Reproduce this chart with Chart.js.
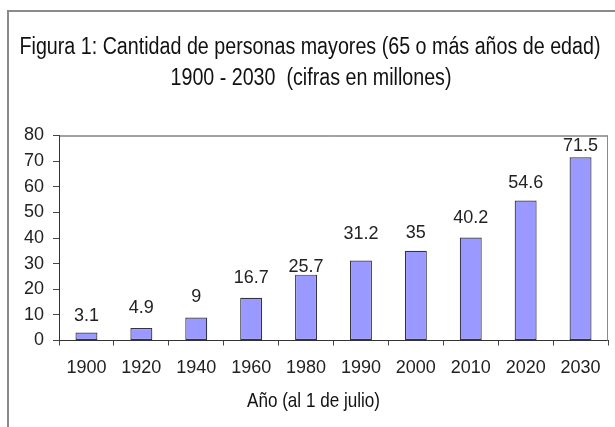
<!DOCTYPE html>
<html>
<head>
<meta charset="utf-8">
<script src="https://cdn.jsdelivr.net/npm/chart.js@4"></script>
<style>
	body {
		margin: 0;
		background: #fff;
		overflow: hidden;
	}
	#box {
		position: absolute;
		left: 7px;
		top: 10px;
		width: 640px;
		height: 440px;
		border-top: 2px solid #8a8a8a;
		border-left: 2px solid #8a8a8a;
	}
	#chart1 {
		position: absolute;
		left: 0;
		top: 0;
	}
</style>
</head>
<body>
<div id="box">
	<canvas id="chart1" width="606" height="415"></canvas>
</div>
<script>
const years = ['1900', '1920', '1940', '1960', '1980', '1990', '2000', '2010', '2020', '2030'];
const seniors = [3.1, 4.9, 9, 16.7, 25.7, 31.2, 35, 40.2, 54.6, 71.5];
const yTicks = [0, 10, 20, 30, 40, 50, 60, 70, 80];

const titleLines = [
	'Figura 1: Cantidad de personas mayores (65 o más años de edad)',
	'1900 - 2030  (cifras en millones)'
];
const xAxisTitle = 'Año (al 1 de julio)';

const font = "'Liberation Sans', Arial, sans-serif";

// how far above each bar top the value sits (as in the picture)
const labelLift = [17, 20, 20, 20, 8, 27, 18, 19, 18, 11];

const barValues = {
	id: 'barValues',
	afterDatasetsDraw(chart) {
		let ctx = chart.ctx;
		let meta = chart.getDatasetMeta(0);
		ctx.save();
		ctx.font = '18px ' + font;
		ctx.fillStyle = '#222';
		ctx.textAlign = 'center';
		ctx.textBaseline = 'middle';
		meta.data.forEach((bar, i) => {
			ctx.fillText(String(seniors[i]), bar.x, bar.y - labelLift[i]);
		});
		ctx.restore();
	}
};

const plotFrame = {
	id: 'plotFrame',
	beforeDatasetsDraw(chart) {
		let a = chart.chartArea;
		let ctx = chart.ctx;
		ctx.save();
		ctx.lineWidth = 1;
		ctx.strokeStyle = '#444';
		ctx.beginPath();
		ctx.moveTo(a.left, a.top + 0.5);
		ctx.lineTo(a.right, a.top + 0.5);
		ctx.stroke();
		ctx.strokeStyle = '#8a8a8a';
		ctx.beginPath();
		ctx.moveTo(a.right - 0.5, a.top);
		ctx.lineTo(a.right - 0.5, a.bottom);
		ctx.stroke();
		ctx.restore();
	}
};

// the picture uses a narrow face; squeeze the regular one with maxWidth
const narrowText = {
	id: 'narrowText',
	afterDraw(chart) {
		let ctx = chart.ctx;
		ctx.save();
		ctx.fillStyle = '#111';
		ctx.textAlign = 'center';
		ctx.textBaseline = 'middle';
		ctx.font = '23px ' + font;
		ctx.fillText(titleLines[0], 301, 36, 581);
		ctx.fillText(titleLines[1], 302, 66.5, 281);
		ctx.font = '21px ' + font;
		ctx.fillText(xAxisTitle, 304.5, 389, 133);
		ctx.restore();
	}
};

new Chart(document.getElementById('chart1'), {
	type: 'bar',
	data: {
		labels: years,
		datasets: [
			{
				label: 'Personas mayores',
				data: seniors,
				backgroundColor: '#9999ff',
				borderColor: '#333344',
				borderWidth: 1.2,
				borderSkipped: false,
				barPercentage: 0.4,
				categoryPercentage: 1
			}
		]
	},
	options: {
		responsive: false,
		animation: false,
		layout: {
			padding: { top: 123.5, right: 7, bottom: 0, left: 0 }
		},
		plugins: {
			legend: { display: false },
			tooltip: { enabled: false },
			title: { display: false }
		},
		scales: {
			x: {
				grid: {
					offset: true,
					drawOnChartArea: false,
					drawTicks: true,
					tickLength: 5,
					color: '#444'
				},
				border: { display: true, color: '#333', width: 1 },
				ticks: {
					color: '#222',
					font: { family: font, size: 18 },
					padding: 12,
					maxRotation: 0,
					autoSkip: false
				},
				afterFit: (s) => {
					s.height = 86.5;
				}
			},
			y: {
				min: 0,
				max: 80,
				afterBuildTicks: (s) => {
					s.ticks = yTicks.map((v) => ({ value: v }));
				},
				grid: {
					drawOnChartArea: false,
					drawTicks: true,
					tickLength: 6,
					color: '#444'
				},
				border: { display: true, color: '#333', width: 1 },
				ticks: {
					color: '#222',
					font: { family: font, size: 18 },
					padding: 9
				},
				afterFit: (s) => {
					s.width = 50;
				}
			}
		}
	},
	plugins: [barValues, plotFrame, narrowText]
});
</script>
</body>
</html>
